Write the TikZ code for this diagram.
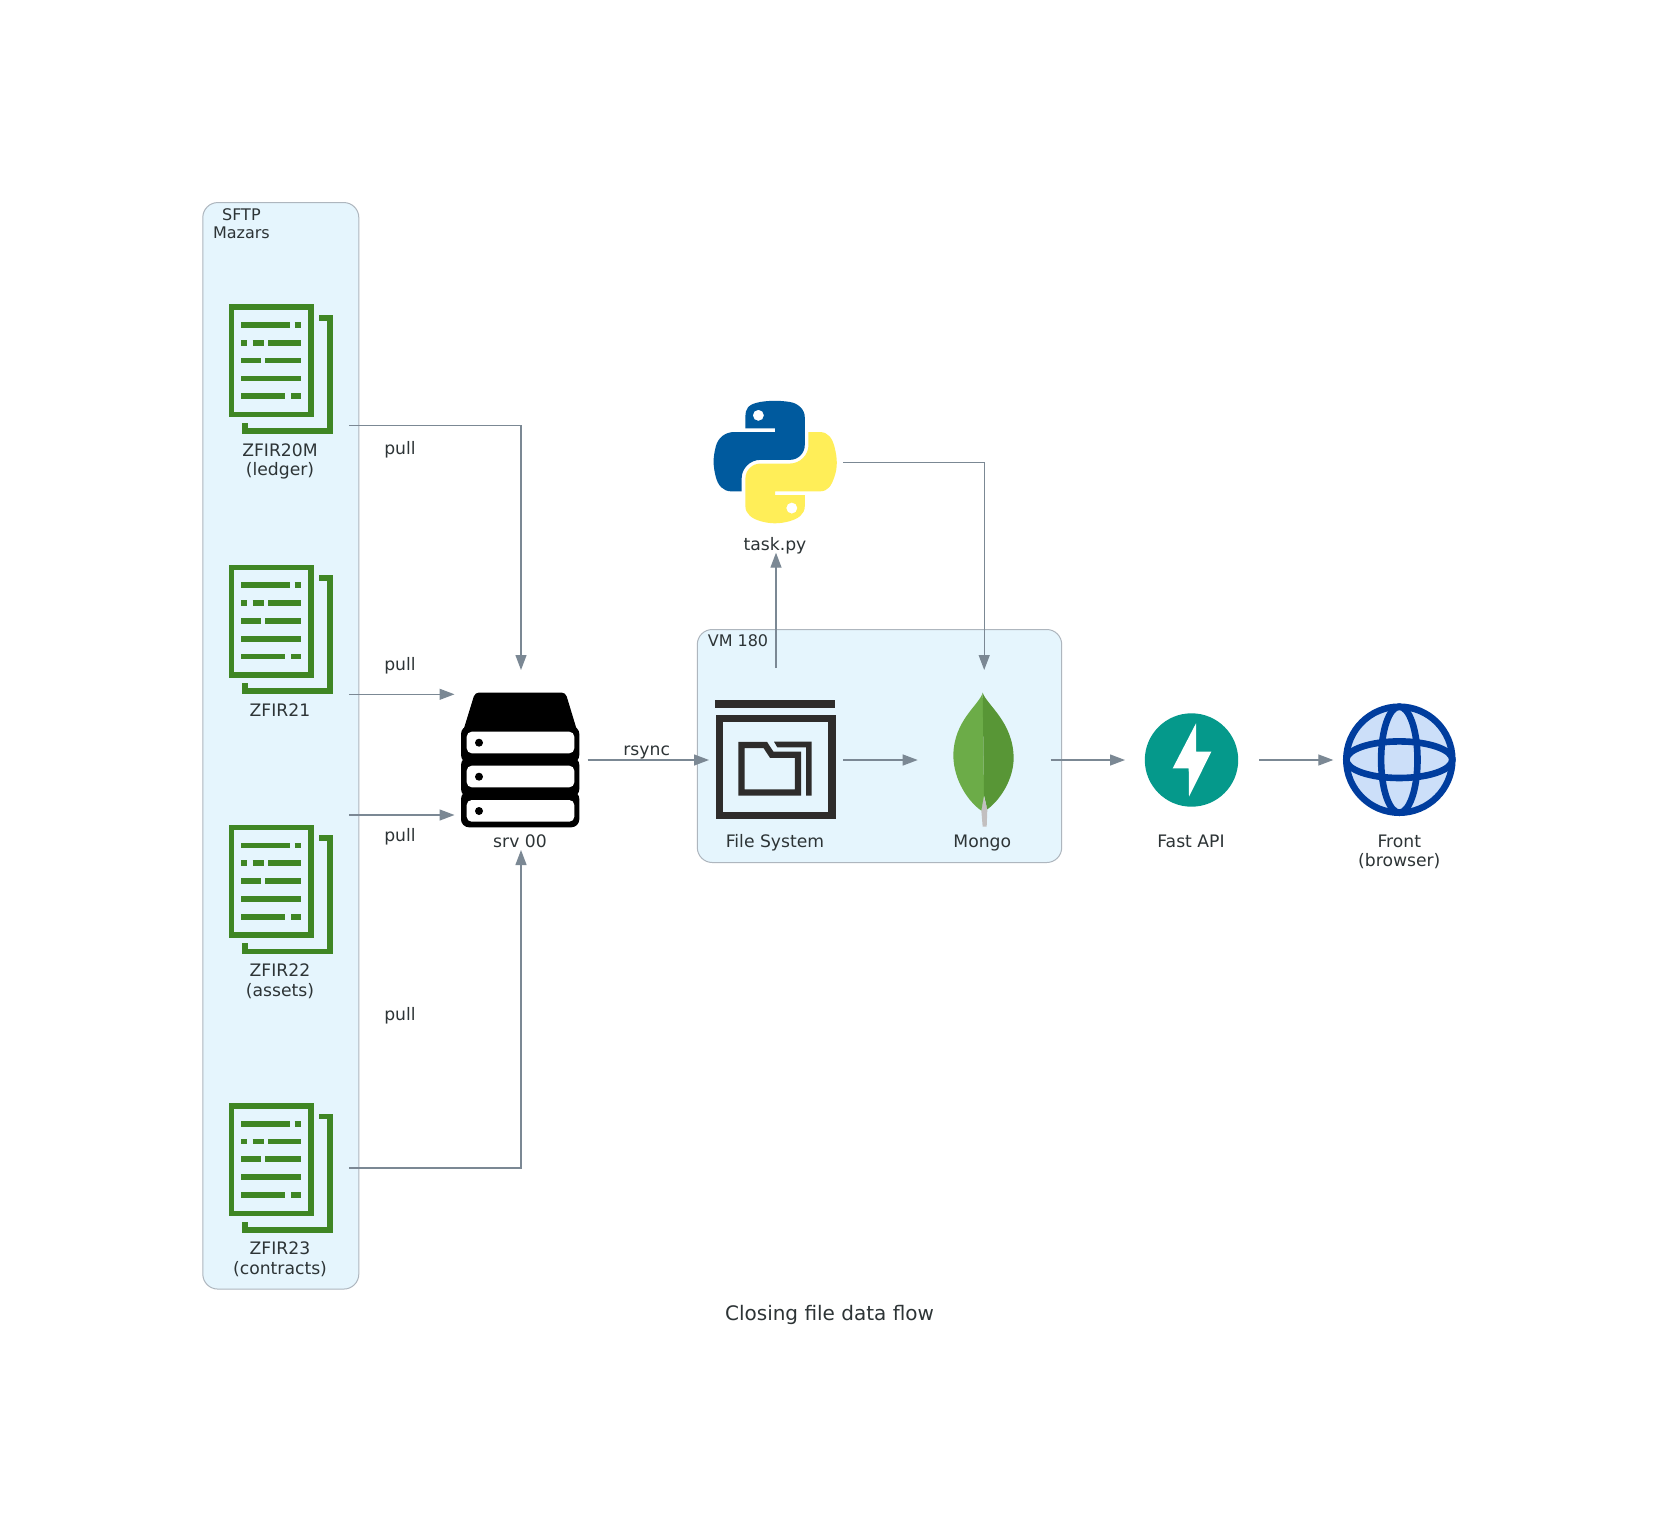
\documentclass[tikz,border=0pt]{standalone}
\usepackage{fontspec}
\setmainfont{DejaVu Sans}
\usetikzlibrary{arrows.meta,svg.path}
\definecolor{txt}{HTML}{2D3436}
\definecolor{edgec}{HTML}{7B8894}
\definecolor{clfill}{HTML}{E5F5FD}
\definecolor{clline}{HTML}{AEB6BE}
\definecolor{docg}{HTML}{3F8624}
\definecolor{fsc}{HTML}{2E2C2B}
\definecolor{pyb}{HTML}{005A9E}
\definecolor{pyy}{HTML}{FFEE58}
\definecolor{leafl}{HTML}{6CAC48}
\definecolor{leafd}{HTML}{589636}
\definecolor{stem}{HTML}{C2BFBF}
\definecolor{fast}{HTML}{05998B}
\definecolor{globef}{HTML}{CCDFF9}
\definecolor{globel}{HTML}{003D9E}
\tikzset{
  cluster/.style={draw=clline,fill=clfill,line width=1pt,rounded corners=15pt},
  lbl/.style={text=txt,align=center,inner sep=0pt,font=\fontsize{17.2}{18.6}\selectfont},
  clbl/.style={text=txt,align=center,inner sep=0pt,font=\fontsize{16}{17.6}\selectfont},
  ttl/.style={text=txt,inner sep=0pt,font=\fontsize{20}{24}\selectfont},
  iconbox/.style={inner sep=0pt,outer sep=0pt,draw=none,minimum width=#1},
  flow/.style={draw=edgec,line width=1.3pt,-{Triangle[length=15pt,width=11pt]}},
  docline/.style={draw=docg,line width=5.7pt},
}
\newcommand{\docicon}[1]{%
  \begin{scope}[shift={(0,#1)}]
    \draw[docline] (231.5,2.85) rectangle (310.9,110.4);
    \draw[docline] (319.3,13.5) -- (329.8,13.5) -- (329.8,126.8) -- (244.9,126.8) -- (244.9,118.6);
    \draw[docline] (241,20.8) -- (290,20.8) (294.7,20.8) -- (301.3,20.8);
    \draw[docline] (241,38.6) -- (247.3,38.6) (252.7,38.6) -- (264,38.6) (268,38.6) -- (301.3,38.6);
    \draw[docline] (241,56.3) -- (260.7,56.3) (265.3,56.3) -- (301.3,56.3);
    \draw[docline] (241,74.3) -- (301.3,74.3);
    \draw[docline] (241,92) -- (285,92) (291,92) -- (301.3,92);
  \end{scope}}
\newcommand{\sv}[1]{\strut #1}
\begin{document}
\begin{tikzpicture}[x=1pt,y=-1pt]
\path[use as bounding box,fill=white] (0,0) rectangle (1659,1525);
% clusters
\node[cluster,inner sep=0pt,minimum width=156pt,minimum height=1086.5pt] (sftp) at (280.8,745.8) {};
\node[cluster,inner sep=0pt,minimum width=364.4pt,minimum height=233pt] (vm) at (879.5,746) {};
\node[clbl] (sftpl) at (241.4,226) {\sv{SFTP}\\\sv{Mazars}};
\node[clbl] (vml) at (738,643) {\sv{VM 180}};
% invisible icon frames used as connector ends
\node[iconbox=138pt,minimum height=140pt] (doc1) at (280,368) {};
\node[iconbox=138pt,minimum height=140pt] (doc2) at (280,628) {};
\node[iconbox=138pt,minimum height=140pt] (doc3) at (280,888) {};
\node[iconbox=138pt,minimum height=140pt] (doc4) at (280,1167) {};
\node[iconbox=133pt,minimum height=180pt] (srv) at (521,760) {};
\node[iconbox=134pt,minimum height=184pt] (fs) at (776,760) {};
\node[iconbox=134pt,minimum height=180pt] (py) at (776,462.7) {};
\node[iconbox=133pt,minimum height=180pt] (mongo) at (984.2,760) {};
\node[iconbox=134pt,minimum height=180pt] (api) at (1192,760) {};
\node[iconbox=132pt,minimum height=180pt] (front) at (1399.3,760) {};
% documents
\docicon{304.2}
\docicon{564.5}
\docicon{824.7}
\docicon{1103}
% server
\fill[black,rounded corners=4pt] (475,692.5) -- (565.5,692.5) -- (579.3,738) -- (461,738) -- cycle;
\fill[black,rounded corners=8pt] (461,726) rectangle (579.3,763);
\fill[black,rounded corners=8pt] (461,757) rectangle (579.3,797);
\fill[black,rounded corners=8pt] (461,791) rectangle (579.3,827.3);
\fill[white,rounded corners=5pt] (466.7,731.7) rectangle (574.3,753.3);
\fill[white,rounded corners=5pt] (466.7,765.7) rectangle (574.3,787.3);
\fill[white,rounded corners=5pt] (466.7,800) rectangle (574.3,821.7);
\fill[black] (479,742.7) circle (4pt) (479,776.7) circle (4pt) (479,811) circle (4pt);
% file system
\fill[fsc] (715.3,700) rectangle (835,707.7);
\draw[fsc,line width=7.7pt] (719.5,718.5) rectangle (831.8,815.5);
\draw[fsc,line width=6.3pt] (741.5,745) -- (765.3,745) -- (771.7,754.7) -- (798,754.7) -- (798,792.5) -- (741.5,792.5) -- cycle;
\fill[fsc] (774,741.7) -- (811.7,741.7) -- (811.7,795.7) -- (806,795.7) -- (806,747.3) -- (777.3,747.3) -- cycle;
% python
\begin{scope}[shift={(713.6,400.8)},xscale=1.108,yscale=-1.09]
\fill[pyb,even odd rule] svg "M 54.918785 0 C 50.335132 0.02221727 45.957846 0.41313697 42.106285 1.0946693 C 30.760069 3.0991731 28.700036 7.2947714 28.700035 15.032169 v 10.21875 h 26.8125 v 3.40625 h -36.875 c -7.792459 0 -14.6157588 4.683717 -16.7499998 13.59375 c -2.46181998 10.212966 -2.57101508 16.586023 0 27.25 c 1.9059283 7.937852 6.4575432 13.593748 14.2499998 13.59375 h 9.21875 v -12.25 c 0 -8.849902 7.657144 -16.656248 16.75 -16.65625 h 26.78125 c 7.454951 0 13.406253 -6.138164 13.40625 -13.625 v -25.53125 c 0 -7.2663386 -6.12998 -12.7247771 -13.40625 -13.9374997 C 64.281548 0.32794397 59.502438 -0.02037903 54.918785 0 Z M 40.418785 8.2196 c 2.769547 0 5.03125 2.2986456 5.03125 5.1249996 c 0 2.816336 -2.261703 5.09375 -5.03125 5.09375 c -2.779476 0 -5.03125 -2.277415 -5.03125 -5.09375 c 0 -2.826353 2.251774 -5.1249996 5.03125 -5.1249996 Z";
\fill[pyy,even odd rule] svg "M 85.637535 28.657169 v 11.90625 c 0 9.230755 -7.825895 16.999999 -16.75 17 h -26.78125 c -7.335833 0 -13.406249 6.278483 -13.40625 13.625 v 25.531247 c 0 7.266344 6.318588 11.540324 13.40625 13.625004 c 8.487331 2.49561 16.626237 2.94663 26.78125 0 c 6.750155 -1.95439 13.406253 -5.88761 13.40625 -13.625004 V 86.500919 h -26.78125 v -3.40625 h 40.1875 c 7.792461 0 10.696251 -5.435408 13.406241 -13.59375 c 2.79933 -8.398886 2.74022 -16.475776 0 -27.25 c -1.92578 -7.757441 -5.60387 -13.59375 -13.406241 -13.59375 Z M 70.575035 93.313419 c 2.779478 0 5.03125 2.277417 5.03125 5.093747 c 0 2.826354 -2.251775 5.125004 -5.03125 5.125004 c -2.76955 0 -5.03125 -2.29865 -5.03125 -5.125004 c 0 -2.81633 2.261697 -5.093747 5.03125 -5.093747 Z";
\end{scope}
% mongo leaf
\begin{scope}[shift={(930,680)},xscale=1/3,yscale=1/3]
\fill[stem] (160,345) -- (154,392) -- (158,440) -- (170,440) -- (172,388) -- cycle;
\fill[leafl] (158,38) .. controls (148,75) and (72,120) .. (70,225) .. controls (70,300) and (115,365) .. (154,392) -- (162,345) -- cycle;
\fill[leafd] (158,38) .. controls (170,75) and (250,125) .. (251,235) .. controls (250,300) and (210,360) .. (172,388) -- (162,345) -- cycle;
\end{scope}
% fast api
\fill[fast] (1191.5,760) circle (46.7pt);
\fill[white] (1196,723.3) -- (1172.7,768.3) -- (1188.7,768.3) -- (1189,796.7) -- (1211.3,751.7) -- (1196,751.7) -- cycle;
% globe
\draw[globel,fill=globef,line width=6.6pt] (1399.3,759.7) circle (53pt);
\draw[globel,line width=6.6pt] (1399.3,759.7) ellipse [x radius=53pt,y radius=18.3pt];
\draw[globel,line width=6.6pt] (1399.3,759.7) ellipse [x radius=18.2pt,y radius=53pt];
% labels
\node[lbl] (l1) at (280,462.4) {\sv{ZFIR20M}\\\sv{(ledger)}};
\node[lbl] (l2) at (280,713) {\sv{ZFIR21}};
\node[lbl] (l3) at (280,982.9) {\sv{ZFIR22}\\\sv{(assets)}};
\node[lbl] (l4) at (280,1260.9) {\sv{ZFIR23}\\\sv{(contracts)}};
\node[lbl] (pl1) at (400,451) {\sv{pull}};
\node[lbl] (pl2) at (400,667) {\sv{pull}};
\node[lbl] (pl3) at (400,838) {\sv{pull}};
\node[lbl] (pl4) at (400,1017) {\sv{pull}};
\node[lbl] (lsrv) at (520,843.5) {\sv{srv 00}};
\node[lbl] (lrs) at (646.7,752) {\sv{rsync}};
\node[lbl] (lfs) at (775,843.5) {\sv{File System}};
\node[lbl] (lpy) at (775,546.5) {\sv{task.py}};
\node[lbl] (lmg) at (982.3,843.5) {\sv{Mongo}};
\node[lbl] (lapi) at (1191,843.5) {\sv{Fast API}};
\node[lbl] (lfr) at (1399.3,853.2) {\sv{Front}\\\sv{(browser)}};
\node[ttl] (title) at (829.5,1314.5) {Closing file data flow};
% connectors
\coordinate (d1p) at (349,425.3);
\coordinate (d2p) at (349,694.3);
\coordinate (d3p) at (349,815);
\coordinate (d4p) at (349,1168);
\draw[flow] (d1p) -| (srv.north);
\draw[flow] (d2p) -- (srv.west |- d2p);
\draw[flow] (d3p) -- (srv.west |- d3p);
\draw[flow] (d4p) -| (srv.south);
\draw[flow] (srv.east) -- (fs.west);
\draw[flow] (fs.east) -- (mongo.west);
\draw[flow] (mongo.east) -- (api.west);
\draw[flow] (api.east) -- (front.west);
\draw[flow] (fs.north) -- (py.south);
\draw[flow] (py.east) -| (mongo.north);
\end{tikzpicture}
\end{document}
